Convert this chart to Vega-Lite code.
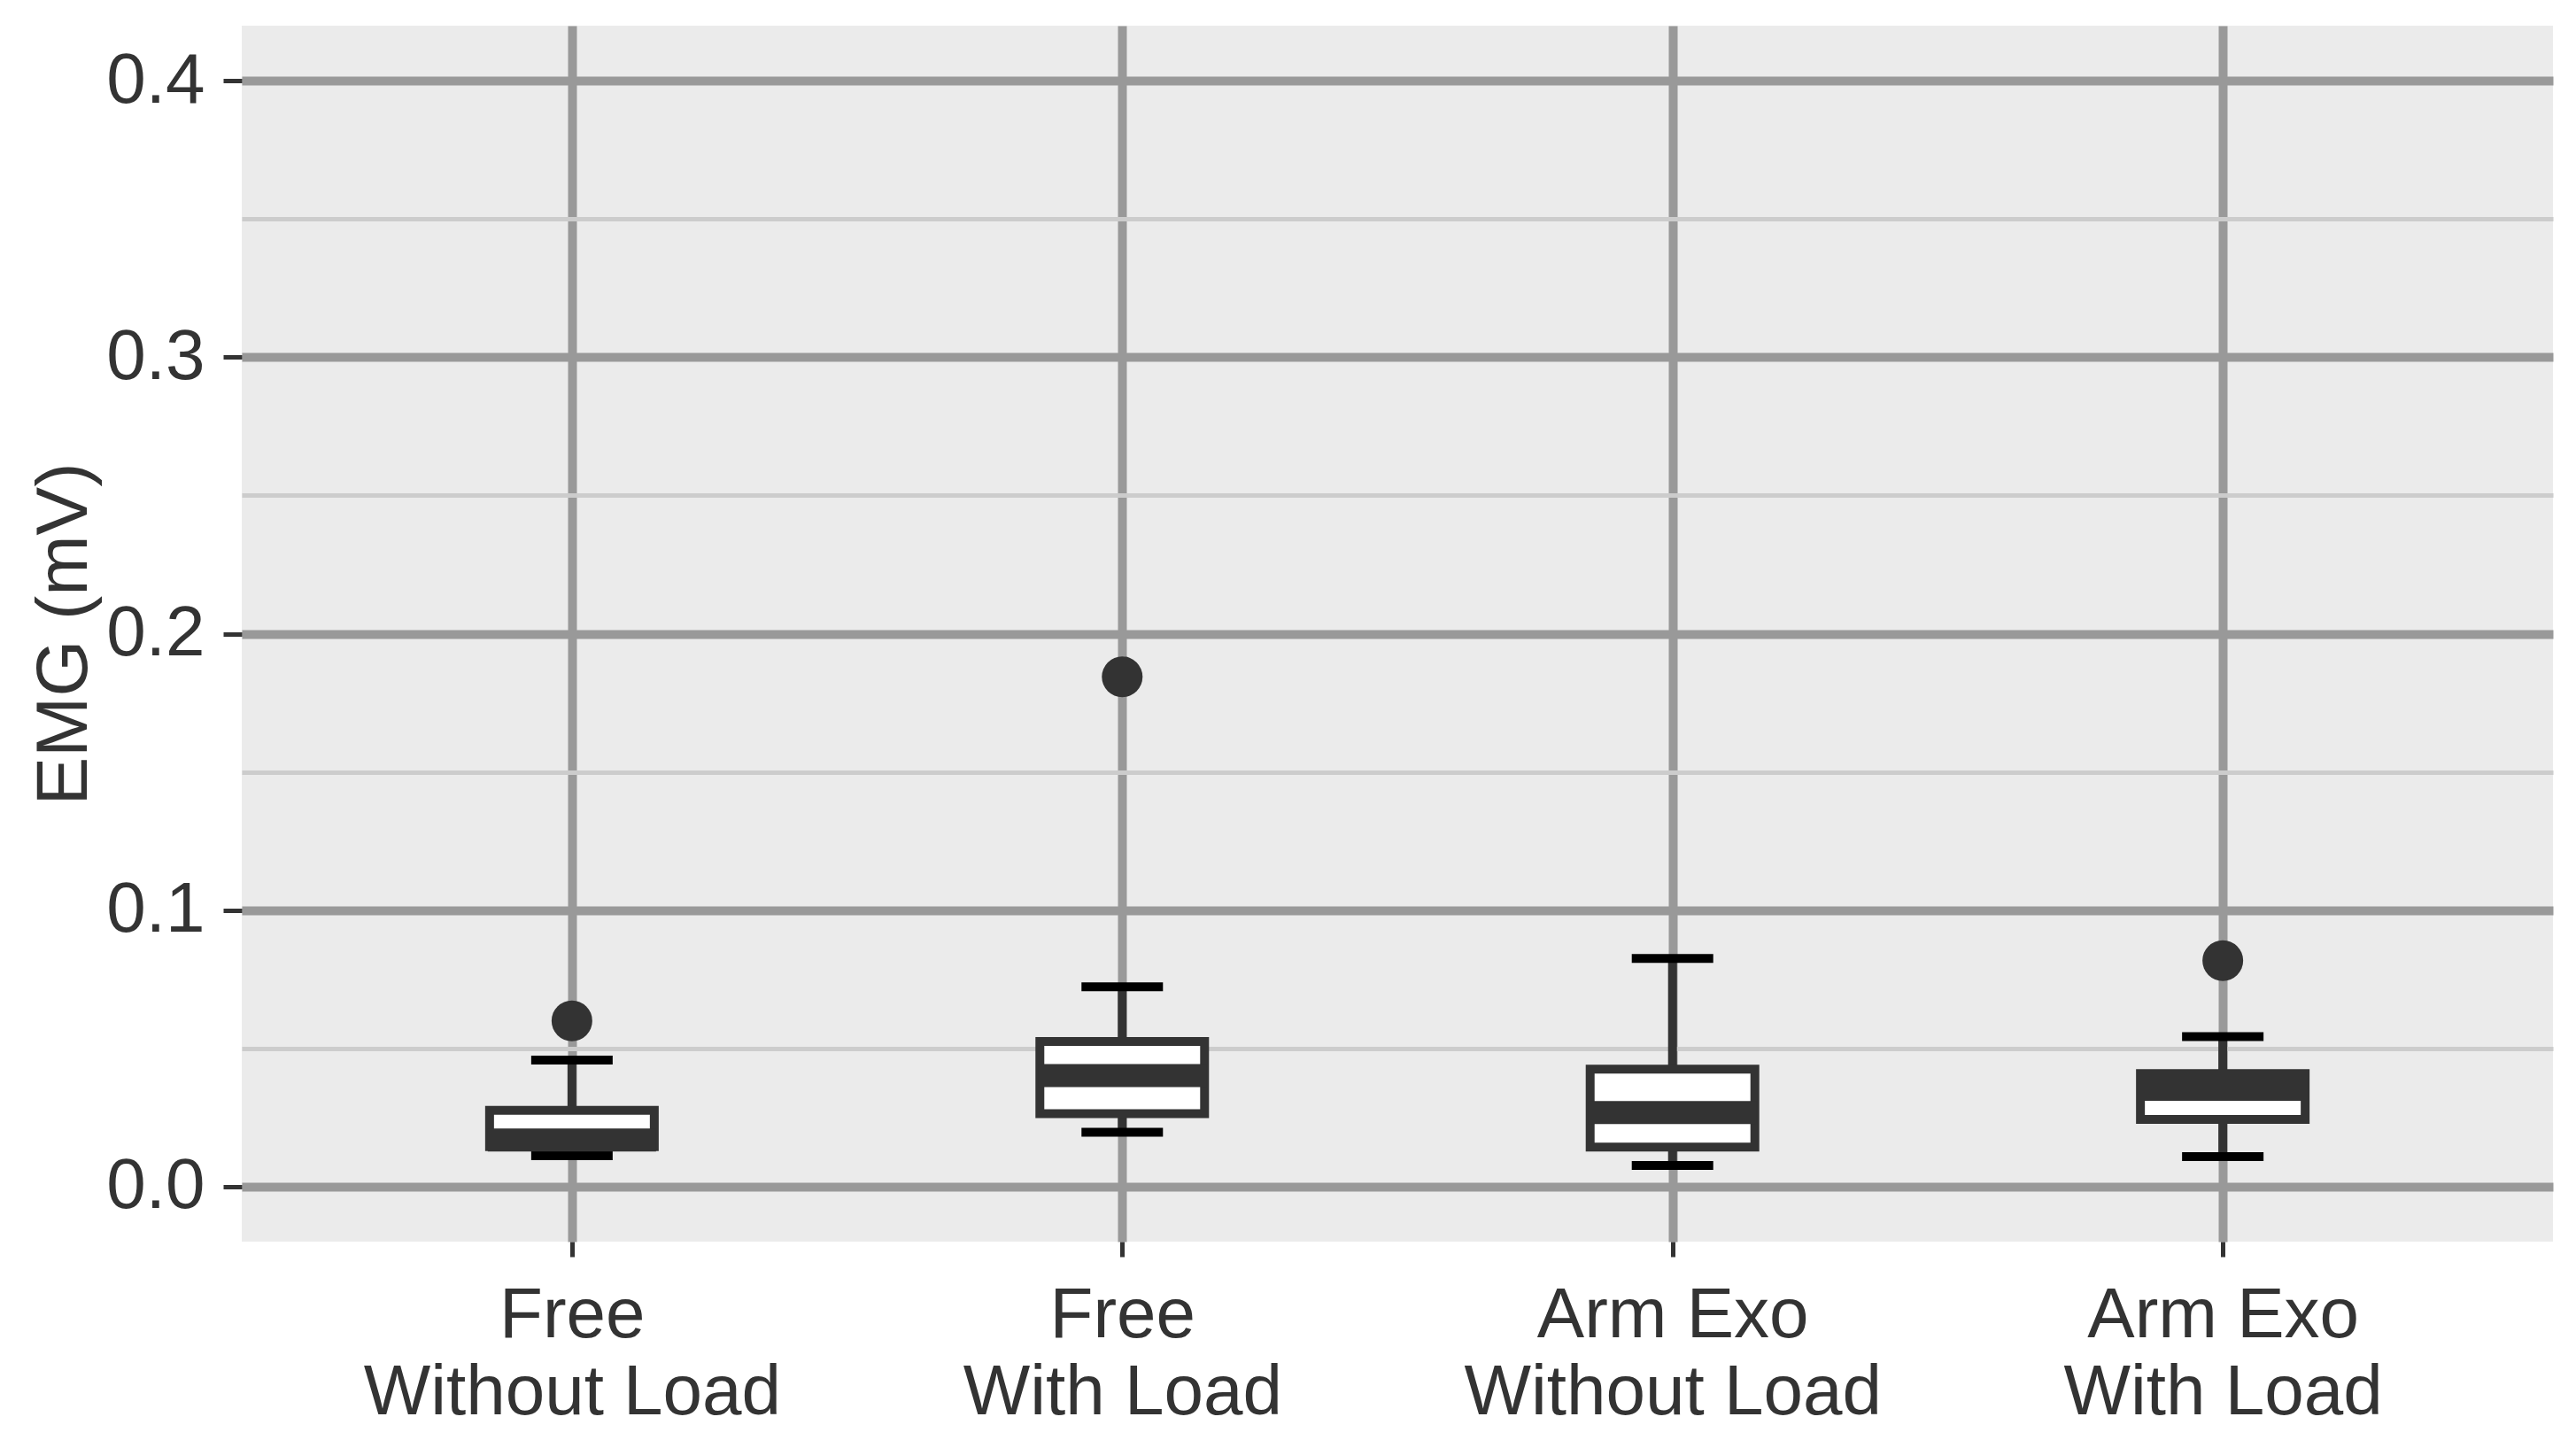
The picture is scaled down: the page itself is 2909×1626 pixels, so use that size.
{
  "$schema": "https://vega.github.io/schema/vega-lite/v6.json",
  "width": 2610,
  "height": 1373,
  "autosize": {"type": "none"},
  "padding": {"left": 273, "top": 29, "right": 26, "bottom": 224},
  "background": "white",
  "config": {
    "view": {"fill": "#EBEBEB", "stroke": null},
    "font": "Liberation Sans"
  },
  "datasets": {
    "boxes": [
      {"condition": "Free\nWithout Load", "lower": 0.0111, "q1": 0.0144, "median": 0.0168, "q3": 0.0275, "upper": 0.0457},
      {"condition": "Free\nWith Load", "lower": 0.0196, "q1": 0.0263, "median": 0.0401, "q3": 0.0524, "upper": 0.0722},
      {"condition": "Arm Exo\nWithout Load", "lower": 0.0076, "q1": 0.0142, "median": 0.0267, "q3": 0.0424, "upper": 0.0825},
      {"condition": "Arm Exo\nWith Load", "lower": 0.0108, "q1": 0.0242, "median": 0.0351, "q3": 0.0408, "upper": 0.0542}
    ],
    "outliers": [
      {"condition": "Free\nWithout Load", "emg": 0.0599},
      {"condition": "Free\nWith Load", "emg": 0.1844},
      {"condition": "Arm Exo\nWith Load", "emg": 0.0817}
    ]
  },
  "encoding": {
    "x": {
      "field": "condition",
      "type": "nominal",
      "sort": ["Free\nWithout Load", "Free\nWith Load", "Arm Exo\nWithout Load", "Arm Exo\nWith Load"],
      "scale": {"type": "point", "padding": 0.6},
      "axis": {
        "title": null,
        "grid": true,
        "gridColor": "#999999",
        "gridWidth": 10,
        "domain": false,
        "ticks": true,
        "tickColor": "#333333",
        "tickWidth": 5,
        "tickSize": 17,
        "labelFontSize": 80,
        "labelColor": "#333333",
        "labelAngle": 0,
        "labelAlign": "center",
        "labelBaseline": "alphabetic",
        "labelPadding": 90,
        "labelLineHeight": 87,
        "labelLimit": 0,
        "labelOverlap": false,
        "labelExpr": "split(datum.label, '\\n')"
      }
    }
  },
  "layer": [
    {
      "data": {"name": "boxes"},
      "mark": {"type": "rule", "color": "#333333", "strokeWidth": 10, "opacity": 1},
      "encoding": {
        "y": {
          "field": "lower",
          "type": "quantitative",
          "scale": {"domain": [-0.02, 0.42], "nice": false, "zero": false},
          "axis": {
            "title": "EMG (mV)",
            "values": [0, 0.05, 0.1, 0.15, 0.2, 0.25, 0.3, 0.35, 0.4],
            "labelExpr": "round(datum.value * 100) % 10 == 0 ? format(datum.value, '.1f') : ''",
            "grid": true,
            "gridColor": {"condition": {"test": "round(datum.value * 100) % 10 == 0", "value": "#999999"}, "value": "#CCCCCC"},
            "gridWidth": {"condition": {"test": "round(datum.value * 100) % 10 == 0", "value": 10}, "value": 5},
            "domain": false,
            "tickColor": "#333333",
            "tickWidth": 5,
            "tickSize": 21,
            "tickOpacity": {"condition": {"test": "round(datum.value * 100) % 10 == 0", "value": 1}, "value": 0},
            "labelFontSize": 80,
            "labelColor": "#333333",
            "labelPadding": 21,
            "labelBaseline": "middle",
            "titleFontSize": 82,
            "titleFontWeight": "normal",
            "titleColor": "#333333",
            "titleX": -176,
            "titleBaseline": "alphabetic"
          }
        },
        "y2": {"field": "upper"}
      }
    },
    {
      "data": {"name": "boxes"},
      "mark": {"type": "tick", "color": "#000000", "size": 92, "thickness": 10, "opacity": 1},
      "encoding": {"y": {"field": "lower", "type": "quantitative"}}
    },
    {
      "data": {"name": "boxes"},
      "mark": {"type": "tick", "color": "#000000", "size": 92, "thickness": 10, "opacity": 1},
      "encoding": {"y": {"field": "upper", "type": "quantitative"}}
    },
    {
      "data": {"name": "boxes"},
      "mark": {"type": "bar", "width": 186, "fill": "#FFFFFF", "stroke": "#333333", "strokeWidth": 10, "opacity": 1},
      "encoding": {
        "y": {"field": "q1", "type": "quantitative"},
        "y2": {"field": "q3"}
      }
    },
    {
      "data": {"name": "boxes"},
      "mark": {"type": "tick", "color": "#333333", "size": 190, "thickness": 26, "opacity": 1},
      "encoding": {"y": {"field": "median", "type": "quantitative"}}
    },
    {
      "data": {"name": "outliers"},
      "mark": {"type": "point", "shape": "circle", "filled": true, "color": "#333333", "opacity": 1, "size": 2116},
      "encoding": {"y": {"field": "emg", "type": "quantitative"}}
    }
  ]
}
